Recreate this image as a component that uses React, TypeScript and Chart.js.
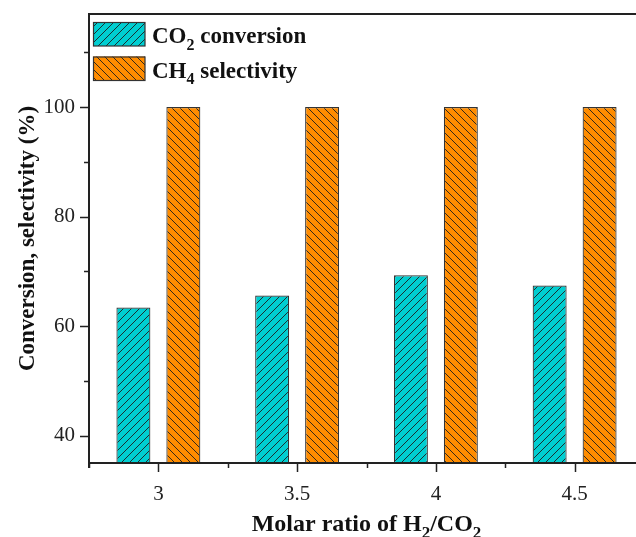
import React, { useEffect, useRef } from 'react';
import { Chart, registerables } from 'chart.js';

Chart.register(...registerables);

// H2/CO2 molar ratios on the category axis
const ratios = ['3', '3.5', '4', '4.5'];
// CO2 conversion (%) at each ratio
const co2Conversion = [63.4, 65.6, 69.3, 67.4];
// CH4 selectivity (%) at each ratio
const ch4Selectivity = [100, 100, 100, 100];
// y-axis range and tick spacing
const yMin = 35;
const yMax = 117;
const yMajorStep = 20;
const yMinorStep = 10;

const SERIF = '"Liberation Serif", "Times New Roman", Times, serif';
const INK = '#222';
const CYAN = 'rgb(0, 206, 209)';
const ORANGE = 'rgb(255, 140, 0)';

type Seg = { t: string; sub?: boolean };

function hatch(fill: string, forward: boolean): CanvasPattern | string {
  const s = 8;
  const c = document.createElement('canvas');
  c.width = s;
  c.height = s;
  const g = c.getContext('2d');
  if (!g) return fill;
  g.fillStyle = fill;
  g.fillRect(0, 0, s, s);
  g.strokeStyle = 'rgba(30, 30, 30, 0.9)';
  g.lineWidth = 1;
  g.beginPath();
  if (forward) {
    g.moveTo(-1, s + 1); g.lineTo(s + 1, -1);
    g.moveTo(-1, 1); g.lineTo(1, -1);
    g.moveTo(s - 1, s + 1); g.lineTo(s + 1, s - 1);
  } else {
    g.moveTo(-1, -1); g.lineTo(s + 1, s + 1);
    g.moveTo(s - 1, -1); g.lineTo(s + 1, 1);
    g.moveTo(-1, s - 1); g.lineTo(1, s + 1);
  }
  g.stroke();
  return g.createPattern(c, 'repeat') || fill;
}

// Width of a run of normal and subscript text.
function segWidth(ctx: CanvasRenderingContext2D, segs: Seg[], size: number): number {
  let w = 0;
  for (const s of segs) {
    ctx.font = `bold ${s.sub ? Math.round(size * 0.7) : size}px ${SERIF}`;
    w += ctx.measureText(s.t).width;
  }
  return w;
}

// Draws normal and subscript runs starting at x, alphabetic baseline y.
function drawSegs(ctx: CanvasRenderingContext2D, segs: Seg[], x: number, y: number, size: number) {
  ctx.textAlign = 'left';
  ctx.textBaseline = 'alphabetic';
  let cx = x;
  for (const s of segs) {
    ctx.font = `bold ${s.sub ? Math.round(size * 0.7) : size}px ${SERIF}`;
    ctx.fillText(s.t, cx, s.sub ? y + size * 0.3 : y);
    cx += ctx.measureText(s.t).width;
  }
}

export default function App() {
  const ref = useRef<HTMLCanvasElement | null>(null);

  useEffect(() => {
    const canvas = ref.current;
    if (!canvas) return;
    const cyanFill = hatch(CYAN, true);
    const orangeFill = hatch(ORANGE, false);

    const frame = {
      id: 'frame',
      afterDraw(chart: any) {
        const ctx: CanvasRenderingContext2D = chart.ctx;
        const { left, right, top, bottom } = chart.chartArea;
        const xs = chart.scales.x;
        const ys = chart.scales.y;
        ctx.save();
        ctx.strokeStyle = INK;

        // frame: top edge plus left/bottom axes
        ctx.lineWidth = 2;
        ctx.beginPath();
        ctx.moveTo(left, top);
        ctx.lineTo(right + 2, top);
        ctx.moveTo(left, top - 1);
        ctx.lineTo(left, bottom + 5);
        ctx.moveTo(left - 1, bottom);
        ctx.lineTo(right + 2, bottom);
        ctx.stroke();

        // y tick marks, outward
        ctx.lineWidth = 1.5;
        ctx.beginPath();
        for (let v = Math.ceil(yMin / yMinorStep) * yMinorStep; v <= yMax; v += yMinorStep) {
          const py = Math.round(ys.getPixelForValue(v)) + 0.5;
          const len = v % yMajorStep === 0 ? 9 : 5;
          ctx.moveTo(left, py);
          ctx.lineTo(left - len, py);
        }
        // x tick marks: long at category centres, short at boundaries
        const n = ratios.length;
        const cw = (right - left) / n;
        for (let i = 0; i < n; i++) {
          const px = Math.round(xs.getPixelForTick(i)) + 0.5;
          ctx.moveTo(px, bottom);
          ctx.lineTo(px, bottom + 9);
        }
        for (let i = 0; i <= n; i++) {
          const px = Math.round(left + i * cw) + 0.5;
          ctx.moveTo(px, bottom);
          ctx.lineTo(px, bottom + 5);
        }
        ctx.stroke();

        // axis titles
        ctx.fillStyle = '#111';
        const xTitle: Seg[] = [
          { t: 'Molar ratio of H' }, { t: '2', sub: true }, { t: '/CO' }, { t: '2', sub: true },
        ];
        const xw = segWidth(ctx, xTitle, 24);
        drawSegs(ctx, xTitle, (left + right) / 2 - xw / 2, 531, 24);

        ctx.save();
        ctx.translate(34, (top + bottom) / 2);
        ctx.rotate(-Math.PI / 2);
        ctx.font = `bold 23px ${SERIF}`;
        ctx.textAlign = 'center';
        ctx.textBaseline = 'alphabetic';
        ctx.fillText('Conversion, selectivity (%)', 0, 0);
        ctx.restore();

        // legend
        const items: { fill: any; segs: Seg[] }[] = [
          { fill: cyanFill, segs: [{ t: 'CO' }, { t: '2', sub: true }, { t: ' conversion' }] },
          { fill: orangeFill, segs: [{ t: 'CH' }, { t: '4', sub: true }, { t: ' selectivity' }] },
        ];
        items.forEach((it, i) => {
          const by = top + 8 + i * 34.5;
          ctx.fillStyle = it.fill;
          ctx.fillRect(left + 4, by, 52, 24);
          ctx.strokeStyle = '#333';
          ctx.lineWidth = 1.2;
          ctx.strokeRect(left + 4.5, by + 0.5, 51.5, 23.5);
          ctx.fillStyle = '#111';
          drawSegs(ctx, it.segs, left + 63, by + 21, 23);
        });
        ctx.restore();
      },
    };

    const chart = new Chart(canvas, {
      type: 'bar',
      data: {
        labels: ratios,
        datasets: [
          {
            label: 'CO2 conversion',
            data: co2Conversion,
            backgroundColor: cyanFill as any,
            borderColor: '#333',
            borderWidth: 1.2,
            borderSkipped: false,
            categoryPercentage: 0.72,
            barPercentage: 0.68,
          },
          {
            label: 'CH4 selectivity',
            data: ch4Selectivity,
            backgroundColor: orangeFill as any,
            borderColor: '#333',
            borderWidth: 1.2,
            borderSkipped: false,
            categoryPercentage: 0.72,
            barPercentage: 0.68,
          },
        ],
      },
      options: {
        responsive: false,
        animation: false,
        devicePixelRatio: 1,
        layout: { padding: { top: 14, right: 16, left: 0, bottom: 0 } },
        plugins: {
          legend: { display: false },
          tooltip: { enabled: false },
          title: { display: false },
        },
        scales: {
          x: {
            type: 'category',
            offset: true,
            grid: { display: false, drawTicks: false },
            border: { display: false },
            ticks: {
              padding: 19,
              color: INK,
              font: { family: SERIF, size: 21 },
              maxRotation: 0,
            },
            afterFit: (s: any) => {
              s.height = 74;
              s.paddingLeft = 0;
              s.paddingRight = 0;
            },
          },
          y: {
            type: 'linear',
            min: yMin,
            max: yMax,
            grid: { display: false, drawTicks: false },
            border: { display: false },
            ticks: {
              stepSize: yMinorStep,
              includeBounds: false,
              padding: 14,
              color: INK,
              font: { family: SERIF, size: 21 },
              callback: (v: any) => (Number(v) % yMajorStep === 0 ? String(v) : ''),
            },
            afterFit: (s: any) => {
              s.width = 89;
              s.paddingTop = 0;
              s.paddingBottom = 0;
            },
          },
        },
      },
      plugins: [frame],
    });

    return () => chart.destroy();
  }, []);

  return (
    <div
      style={{
        position: 'fixed',
        left: 0,
        top: 0,
        width: 636,
        height: 537,
        overflow: 'hidden',
        background: '#fff',
      }}
    >
      <canvas ref={ref} width={660} height={537} style={{ display: 'block' }} />
    </div>
  );
}
